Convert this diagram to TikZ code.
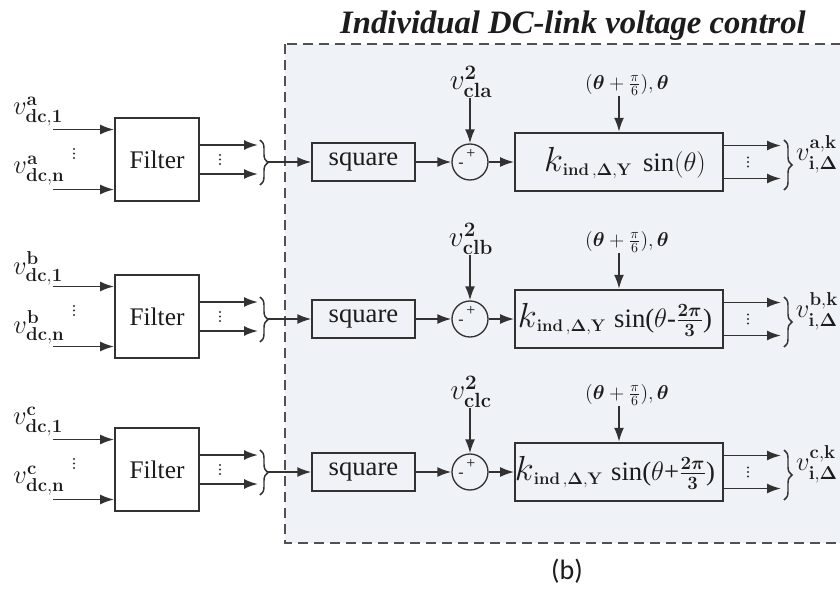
\documentclass[tikz,border=0pt]{standalone}
\usepackage{fix-cm}
\usepackage{amsmath}
\usepackage{bm}
\usepackage[no-math]{fontspec}
\setmainfont{Liberation Serif}
\newfontfamily\capfont{Carlito}
\usetikzlibrary{arrows.meta,decorations.pathreplacing}
\definecolor{bgc}{RGB}{239,242,246}
\definecolor{ln}{RGB}{50,50,50}
\definecolor{txt}{RGB}{28,28,28}
\newcommand{\kterm}{{\fontsize{18}{20}\selectfont$\scalebox{1.45}{$k$}_{\mathbf{ind\,,\Delta,Y}}$}}
\newcommand{\topl}{{\fontsize{15}{16}\selectfont$(\bm{\theta}+\frac{\pi}{6}),\bm{\theta}$}}
\tikzset{
  conn/.style={draw=ln, line width=1.4pt, -{Latex[length=10.5pt,width=7.5pt]}},
  filt/.style={draw=ln, fill=white, line width=1.3pt, minimum width=63pt, minimum height=62pt, inner sep=0pt, text=txt, font=\fontsize{19}{20}\selectfont},
  sqbox/.style={draw=ln, fill=bgc, line width=1.3pt, minimum width=77pt, minimum height=28pt, inner sep=0pt, text=txt, font=\fontsize{20}{21}\selectfont},
  mainbox/.style={draw=ln, fill=bgc, line width=1.3pt, minimum width=156pt, minimum height=44pt, inner sep=0pt},
  sumc/.style={circle, draw=ln, line width=1pt, minimum size=27pt, inner sep=0pt},
  lab/.style={inner sep=0pt, text=txt},
  sgn/.style={inner sep=0pt, text=txt, font=\fontsize{12}{12}\selectfont},
  brc/.style={draw=ln, line width=1.1pt, decorate, decoration={brace, amplitude=6pt}},
  dbox/.style={draw=ln!85, fill=bgc, line width=1.1pt, dash pattern=on 7.5pt off 4.5pt},
  dotc/.style={fill=ln},
}
\newcommand{\vdts}[2]{\foreach \k in {-4.5,0,4.5}{\fill[dotc] (#1,#2+\k) circle (1.2);}}
\begin{document}
\begin{tikzpicture}[x=0.75pt,y=-0.75pt]
\useasboundingbox (0,0) rectangle (840,589);
\clip (0,0) rectangle (840,589);
\fill[white] (0,0) rectangle (840,589);
\node[lab, font=\bfseries\itshape\fontsize{24.5}{26}\selectfont] (title) at (573,26) {Individual DC-link voltage control};
\draw[dbox] (285,44) rectangle (880,543);
\foreach \r/\y in {a/162,b/319,c/472}{
  \pgfmathsetmacro\fy{\y-2.5}
  % inputs and filter
  \node[filt] (f\r) at (157,\fy) {Filter};
  \node[lab, font=\fontsize{20}{22}\selectfont] (in1\r) at (38,\fy-48) {$v^{\mathbf{\r}}_{\mathbf{dc,1}}$};
  \node[lab, font=\fontsize{20}{22}\selectfont] (in2\r) at (39,\fy+11) {$v^{\mathbf{\r}}_{\mathbf{dc,n}}$};
  \vdts{74}{\fy-6}
  \coordinate (i1\r) at (53,\fy-30);
  \coordinate (i2\r) at (53,\fy+30);
  \draw[conn] (i1\r) -- (i1\r -| f\r.west);
  \draw[conn] (i2\r) -- (i2\r -| f\r.west);
  % filter outputs
  \coordinate (o1\r) at (258,\fy-14.5);
  \coordinate (o2\r) at (258,\fy+14.5);
  \draw[conn] (o1\r -| f\r.east) -- (o1\r);
  \draw[conn] (o2\r -| f\r.east) -- (o2\r);
  \vdts{220}{\fy}
  \draw[brc] (260,\y-22) -- (260,\y+23);
  \coordinate (bt\r) at (268,\y);
  % square, sum, main box
  \node[sqbox] (s\r) at (363.5,\y) {square};
  \node[sumc] (c\r) at (470,\y) {};
  \node[mainbox] (m\r) at (619,\y) {};
  \draw[conn] (bt\r) -- (s\r);
  \draw[conn] (s\r) -- (c\r);
  \draw[conn] (c\r) -- (m\r);
  \node[sgn] (cp\r) at (471,\y-8) {+};
  \node[sgn] (cm\r) at (461,\y+3) {-};
  % references
  \node[lab, font=\fontsize{22}{24}\selectfont] (vs\r) at (471,\y-80) {$v^{\mathbf{2}}_{\mathbf{cl\r}}$};
  \coordinate (vt\r) at (470,\y-64);
  \draw[conn] (vt\r) -- (c\r);
  \node[lab] (th\r) at (627,\y-77) {\topl};
  \coordinate (tt\r) at (619,\y-66);
  \draw[conn] (tt\r) -- (m\r.north);
  % outputs
  \coordinate (q1\r) at (781,\y-16.5);
  \coordinate (q2\r) at (781,\y+16.5);
  \draw[conn] (q1\r -| m\r.east) -- (q1\r);
  \draw[conn] (q2\r -| m\r.east) -- (q2\r);
  \vdts{748}{\y}
  \draw[brc] (784,\y-22) -- (784,\y+28);
  \node[lab, font=\fontsize{20}{22}\selectfont] (vo\r) at (817,\y-8) {$v^{\mathbf{\r,k}}_{\mathbf{i,\Delta}}$};
}
\node[lab] (ka) at (625,163) {\kterm\hspace{8pt}{\fontsize{20}{22}\selectfont sin$(\theta)$}};
\node[lab] (kb) at (615,320) {\kterm\hspace{6pt}{\fontsize{20}{22}\selectfont sin($\theta$-$\frac{\mathbf{2}\bm{\pi}}{\mathbf{3}}$)}};
\node[lab] (kc) at (615,473) {\kterm\hspace{6pt}{\fontsize{20}{22}\selectfont sin($\theta$+$\frac{\mathbf{2}\bm{\pi}}{\mathbf{3}}$)}};
\node[lab, font=\capfont\fontsize{21}{23}\selectfont] (cap) at (567,571) {(b)};
\end{tikzpicture}
\end{document}
